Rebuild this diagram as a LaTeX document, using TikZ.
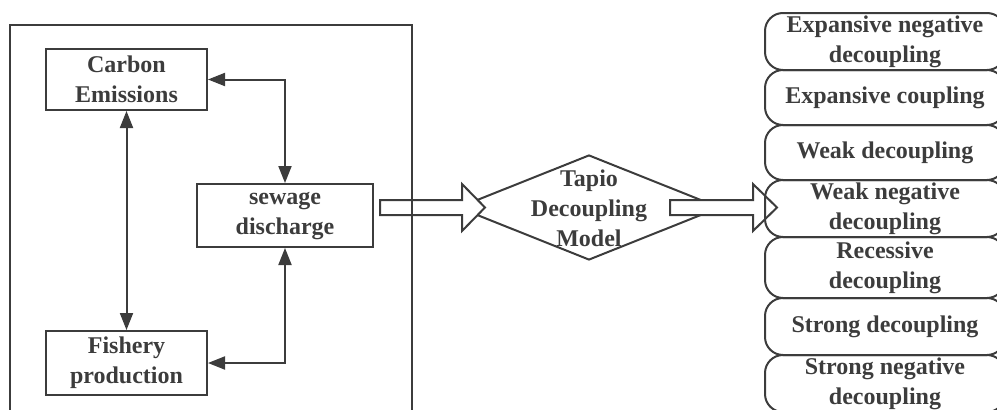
\documentclass[tikz,border=0pt]{standalone}
\usepackage{fontspec}
\setmainfont{Liberation Serif}
\usetikzlibrary{shapes.geometric,arrows.meta,calc}
\definecolor{ink}{HTML}{3C3C3C}
\begin{document}
\begin{tikzpicture}[x=1pt,y=-1pt,
  line width=2pt, draw=ink,
  every node/.style={text=ink, font=\fontsize{24}{30}\selectfont\bfseries, align=center},
  factor/.style={draw=ink, minimum width=161pt, minimum height=61pt, inner sep=0pt},
  outcome/.style={draw=ink, rounded corners=18pt, minimum width=240pt, inner sep=0pt},
  link/.style={draw=ink, {Triangle[length=17pt,width=13pt]}-{Triangle[length=17pt,width=13pt]}},
  blockarrow/.style={draw=ink, fill=white, line join=miter}
]
\useasboundingbox (0,0) rectangle (997,410);
\clip (0,0) rectangle (997,410);

% factor boxes inside the frame
\node[factor] (carbon) at (126.5,79.5) {Carbon\\Emissions};
\node[factor, minimum width=176pt, minimum height=63pt] (sewage) at (285,215.5) {sewage\\discharge};
\node[factor, minimum height=64pt] (fishery) at (126.5,363) {Fishery\\production};

\draw[link] (carbon.south) -- (fishery.north);
\draw[link] (carbon.east) -| (sewage.north);
\draw[link] (fishery.east) -| (sewage.south);

% decoupling model
\node[diamond, draw=ink, minimum width=262pt, minimum height=105pt, inner sep=0pt] (tapio) at (589,207.5) {};
\node (tapiotext) at (589,208) {Tapio\\Decoupling\\Model};

% block arrows
\coordinate (s1) at (380,207.5);
\coordinate (h1) at (462,207.5);
\coordinate (t1) at (485,207.5);
\coordinate (s2) at (670,207.5);
\coordinate (h2) at (753,207.5);
\coordinate (t2) at (777,207.5);
\foreach \s/\h/\t in {s1/h1/t1, s2/h2/t2}{
  \draw[blockarrow] ($(\s)+(0,-7.5)$) -- ($(\h)+(0,-7.5)$) -- ($(\h)+(0,-23.5)$) -- (\t)
    -- ($(\h)+(0,23.5)$) -- ($(\h)+(0,7.5)$) -- ($(\s)+(0,7.5)$) -- cycle;
}

% outer frame
\node[draw=ink, minimum width=402pt, minimum height=395pt, inner sep=0pt] (frame) at (211,222.5) {};

% decoupling states (right ends run past the edge)
\node[outcome, minimum height=57pt] (o1) at (885,41.5) {Expansive negative\\decoupling};
\node[outcome, minimum height=55pt] (o2) at (885,97.5) {Expansive coupling};
\node[outcome, minimum height=55pt] (o3) at (885,152.5) {Weak decoupling};
\node[outcome, minimum height=57pt] (o4) at (885,208.5) {Weak negative\\decoupling};
\node[outcome, minimum height=61pt] (o5) at (885,267.5) {Recessive\\decoupling};
\node[outcome, minimum height=57pt] (o6) at (885,326.5) {Strong decoupling};
\node[outcome, minimum height=57pt] (o7) at (885,383.5) {Strong negative\\decoupling};
\end{tikzpicture}
\end{document}
